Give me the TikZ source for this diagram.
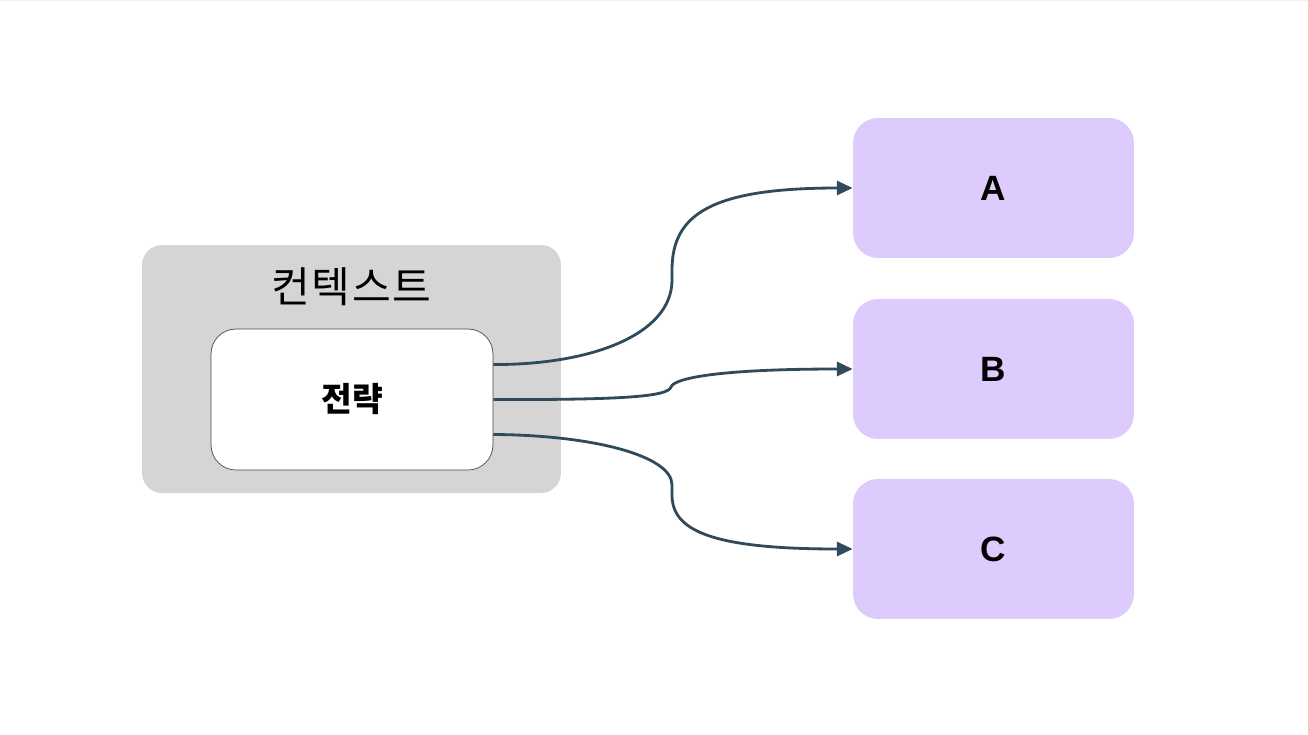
\documentclass[tikz,border=0pt]{standalone}
\usepackage{fontspec}
\setmainfont{Liberation Sans}
\newfontfamily\krfont{Noto Sans CJK KR}
\usepackage{tikz}
\usetikzlibrary{arrows.meta,calc,positioning}

\definecolor{ctxgray}{HTML}{D5D5D5}
\definecolor{boxlilac}{HTML}{DCCBFC}
\definecolor{edgeblue}{HTML}{2F4A5B}

\tikzset{
	ctxbox/.style={fill=ctxgray,rounded corners=0.4cm,minimum width=8.38cm,minimum height=4.96cm},
	stratbox/.style={fill=white,draw=black!70,line width=0.4pt,rounded corners=0.5cm,minimum width=5.64cm,minimum height=2.82cm},
	targetbox/.style={fill=boxlilac,rounded corners=0.5cm,minimum width=5.62cm,minimum height=2.8cm,font=\fontsize{20}{24}\selectfont\bfseries},
	flow/.style={draw=edgeblue,line width=1.6pt,-{Triangle[length=9pt,width=8pt]}}
}

\begin{document}
\begin{tikzpicture}[x=0.02cm,y=-0.02cm]
		\useasboundingbox (0,0) rectangle (1308,734);
		\draw[black!6,line width=1pt] (0,0.5) -- (1308,0.5);
		\node[ctxbox] (ctx) at (351.5,369) {};
		\node[font=\krfont\fontsize{24}{28}\selectfont] (title) at (351.5,287) {컨\kern1pt 텍\kern1pt 스\kern1pt 트};
		\node[stratbox] (strat) at (352,399.5) {};
		\node[font=\krfont\fontsize{19}{23}\selectfont\bfseries] (stratlbl) at (352,399.5) {전략};
		\node[targetbox] (a) at (993.5,188) {A};
		\node[targetbox] (b) at (993.5,369) {B};
		\node[targetbox] (c) at (993.5,549) {C};
		\draw[flow] ([yshift=0.7cm]strat.east) .. controls (590,365) and (672,335) .. (672,280)
			-- (672,270) .. controls (672,215) and (710,188) .. (a.west);
		\draw[flow] (strat.east) .. controls (630,400) and (668,396) .. (671,387)
			.. controls (674,378) and (720,369) .. (b.west);
		\draw[flow] ([yshift=-0.7cm]strat.east) .. controls (590,435) and (672,455) .. (672,485)
			-- (672,495) .. controls (672,530) and (710,549) .. (c.west);
\end{tikzpicture}
\end{document}
